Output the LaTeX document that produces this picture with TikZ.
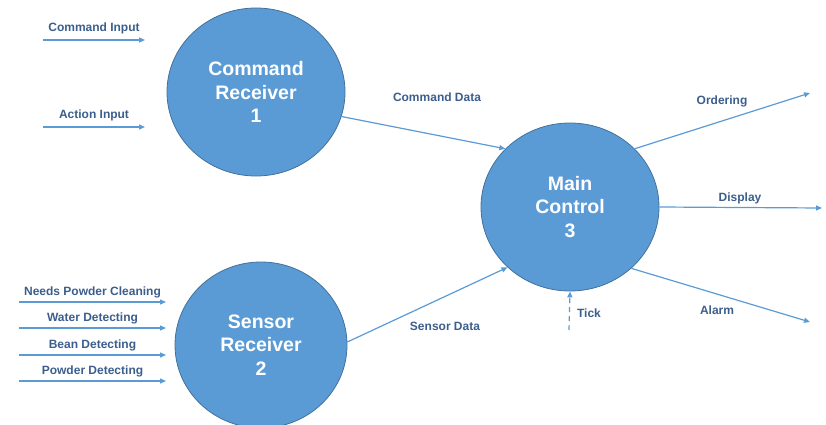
\documentclass[tikz,border=0pt]{standalone}
\usepackage{fontspec}
\setmainfont{Liberation Sans}
\usepackage{tikz}
\usetikzlibrary{shapes.geometric, arrows.meta, positioning}
\definecolor{bubble}{RGB}{91,155,213}
\definecolor{bubbleline}{RGB}{65,113,156}
\definecolor{flowtext}{RGB}{59,94,140}

\begin{document}
\begin{tikzpicture}[
    x=1pt, y=-1pt,
    process/.style={ellipse, draw=bubbleline, fill=bubble, line width=0.8pt, minimum width=178pt, minimum height=168pt, inner sep=0pt, text=white, align=center, font=\bfseries\fontsize{19.5}{23.5}\selectfont},
    flow/.style={draw=bubble, line width=1.2pt, -{Triangle[length=6pt, width=5pt]}},
    flowlabel/.style={text=flowtext, inner sep=1pt, font=\bfseries\fontsize{12}{14}\selectfont}
]
\useasboundingbox (0,0) rectangle (826,425);

% Nodes
\node[process] (cmdrecv) at (256,92) {Command\\Receiver\\1};
\node[process, minimum width=172pt, minimum height=166pt] (sensrecv) at (261,345) {Sensor\\Receiver\\2};
\node[process] (mainctrl) at (570,207) {Main\\Control\\3};

% Free ends
\coordinate (cmdin) at (43,40);
\coordinate (cmdinend) at (145,40);
\coordinate (actin) at (43,127);
\coordinate (actinend) at (145,127);
\coordinate (cleanin) at (19,302);
\coordinate (cleaninend) at (166,302);
\coordinate (waterin) at (19,328);
\coordinate (waterinend) at (166,328);
\coordinate (beanin) at (19,355);
\coordinate (beaninend) at (166,355);
\coordinate (powderin) at (19,381);
\coordinate (powderinend) at (166,381);
\coordinate (orderout) at (810,93);
\coordinate (displayout) at (822,208);
\coordinate (alarmout) at (810,322);
\coordinate (tickin) at (569,330);

% Inputs
\path[flow] (cmdin) -- node[flowlabel, above=4pt, midway] {Command Input} (cmdinend);
\path[flow] (actin) -- node[flowlabel, above=4pt, midway] {Action Input} (actinend);
\path[flow] (cleanin) -- node[flowlabel, above=2pt, midway] {Needs Powder Cleaning} (cleaninend);
\path[flow] (waterin) -- node[flowlabel, above=2pt, midway] {Water Detecting} (waterinend);
\path[flow] (beanin) -- node[flowlabel, above=2pt, midway] {Bean Detecting} (beaninend);
\path[flow] (powderin) -- node[flowlabel, above=2pt, midway] {Powder Detecting} (powderinend);

% Paths between processes
\path[flow] (cmdrecv.-16) -- (mainctrl.138);
\path[flow] (sensrecv.2) -- (mainctrl.-136);
\node[flowlabel] (cmddata) at (437,97) {Command Data};
\node[flowlabel] (sensdata) at (445,326) {Sensor Data};

% Outputs
\path[flow] (mainctrl.42) -- (orderout);
\path[flow] (mainctrl.east) -- (displayout);
\path[flow] (mainctrl.-45) -- (alarmout);
\path[flow, dash pattern=on 5pt off 4pt] (tickin) -- (mainctrl.south);
\node[flowlabel] (ordering) at (722,101) {Ordering};
\node[flowlabel] (display) at (740,198) {Display};
\node[flowlabel] (alarm) at (717,310) {Alarm};
\node[flowlabel] (tick) at (589,313) {Tick};

\end{tikzpicture}
\end{document}
